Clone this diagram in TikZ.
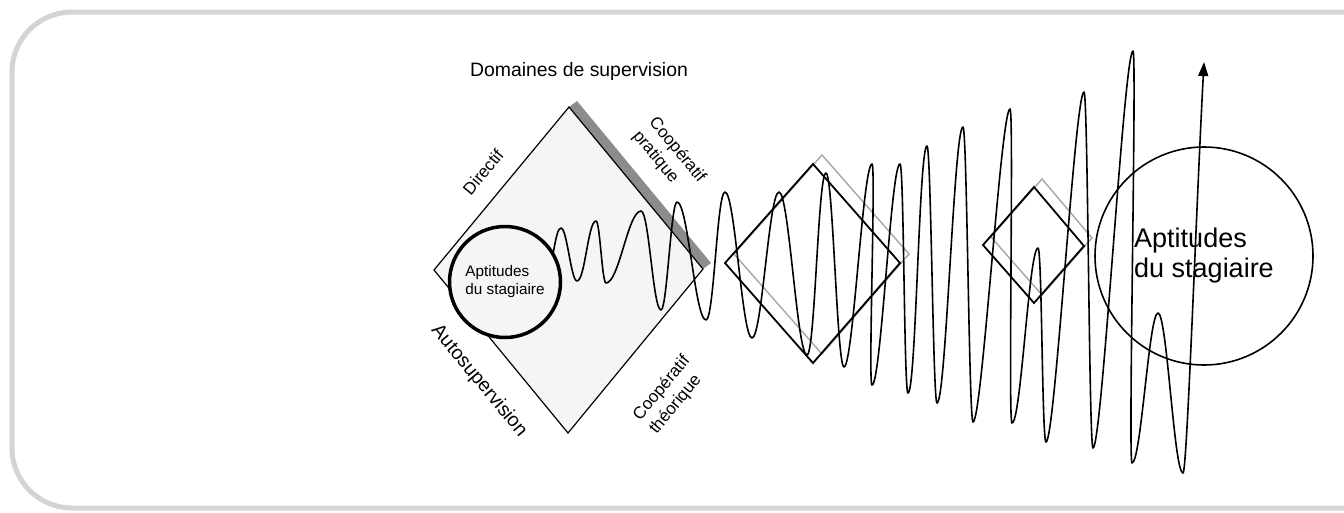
\documentclass[tikz,border=0pt]{standalone}
\usepackage{fontspec}
\setmainfont{Liberation Sans}
\usetikzlibrary{arrows.meta}
\tikzset{
  frame/.style={draw=black!17, line width=5pt, rounded corners=60pt},
  field/.style={draw=black, line width=1.2pt, fill=black!4},
  bar/.style={fill=black!45},
  plate/.style={draw=black, line width=1.8pt},
  plateback/.style={draw=black!35, line width=1.4pt},
  wave/.style={draw=black, line width=1.6pt, line join=round},
  edgelabel/.style={font=\fontsize{17}{21}\selectfont, align=left, inner sep=0pt},
  skills/.style={circle, draw=black, inner sep=0pt, align=left},
}

\begin{document}
\begin{tikzpicture}[x=1pt, y=-1pt]
  \useasboundingbox (0,0) rectangle (1344,512);
  \clip (0,0) rectangle (1344,512);
  \draw[frame] (12,12) rectangle (1420,508);

  % supervision field
  \fill[bar] (569,107) -- (703,269) -- (711,263) -- (577,101) -- cycle;
  \draw[field] (434,270) -- (569,107) -- (703,269) -- (568,433) -- cycle;

  % middle and small plates
  \draw[plateback] (734,254) -- (822,155) -- (909,254) -- (822,354) -- cycle;
  \draw[plate] (725,263) -- (813,164) -- (900,263) -- (813,363) -- cycle;
  \draw[plateback] (991,237) -- (1042,179) -- (1092,238) -- (1042,295) -- cycle;
  \draw[plate] (983,245) -- (1034,187) -- (1084,246) -- (1034,303) -- cycle;

  % growing wave
  \draw[wave, -{Triangle[length=14pt, width=10pt]}] (548,268)
    .. controls +(5,0) and +(-6,0) .. (561,228)
    .. controls +(6,0) and +(-6,0) .. (577,281)
    .. controls +(8,0) and +(-8,0) .. (596,221)
    .. controls +(4,0) and +(-4,0) .. (606,283)
    .. controls +(13,0) and +(-13,0) .. (641,211)
    .. controls +(8,0) and +(-8,0) .. (661,310)
    .. controls +(6,0) and +(-6,0) .. (677,202)
    .. controls +(11,0) and +(-11,0) .. (706,320)
    .. controls +(8,0) and +(-8,0) .. (725,192)
    .. controls +(10,0) and +(-10,0) .. (752,338)
    .. controls +(10,0) and +(-10,0) .. (779,192)
    .. controls +(10,0) and +(-10,0) .. (807,355)
    .. controls +(8,0) and +(-8,0) .. (826,173)
    .. controls +(7,0) and +(-7,0) .. (844,367)
    .. controls +(9,0) and +(-9,0) .. (872,164)
    .. controls +(4,0) and +(-4,0) .. (872,385)
    .. controls +(9,0) and +(-9,0) .. (900,164)
    .. controls +(4,0) and +(-4,0) .. (908,393)
    .. controls +(8,0) and +(-8,0) .. (927,146)
    .. controls +(4,0) and +(-4,0) .. (937,403)
    .. controls +(9,0) and +(-9,0) .. (963,127)
    .. controls +(4,0) and +(-4,0) .. (973,422)
    .. controls +(9,0) and +(-9,0) .. (1010,109)
    .. controls +(4,0) and +(-4,0) .. (1012,423)
    .. controls +(9,0) and +(-9,0) .. (1038,248)
    .. controls +(4,0) and +(-4,0) .. (1046,442)
    .. controls +(9,0) and +(-9,0) .. (1084,92)
    .. controls +(4,0) and +(-4,0) .. (1093,448)
    .. controls +(9,0) and +(-9,0) .. (1133,51)
    .. controls +(4,0) and +(-4,0) .. (1132,463)
    .. controls +(9,0) and +(-9,0) .. (1158,313)
    .. controls +(9,0) and +(-9,0) .. (1183,473)
    .. controls +(4,0) and +(-8,150) .. (1204,62);

  % skills circles
  \node[skills, fill=black!4, line width=3.5pt, minimum size=111pt,
        font=\fontsize{15.3}{18}\selectfont] (skillsin) at (505,282) {Aptitudes\\du stagiaire};
  \node[skills, line width=1.6pt, minimum size=218pt,
        font=\fontsize{27}{30}\selectfont] (skillsout) at (1204,256) {Aptitudes\\du stagiaire};

  % labels
  \node[font=\fontsize{19.4}{22}\selectfont] (title) at (579,71) {Domaines de supervision};
  \node[edgelabel, rotate=50.4] (directif) at (483,172) {Directif};
  \node[edgelabel, rotate=-50.4] (cooppra) at (669,157) {Coopératif\\pratique};
  \node[edgelabel, rotate=-50.4, font=\fontsize{19.5}{23}\selectfont] (autosup) at (479,381) {Autosupervision};
  \node[edgelabel, rotate=50.4] (coopthe) at (670,395) {Coopératif\\théorique};
\end{tikzpicture}
\end{document}
